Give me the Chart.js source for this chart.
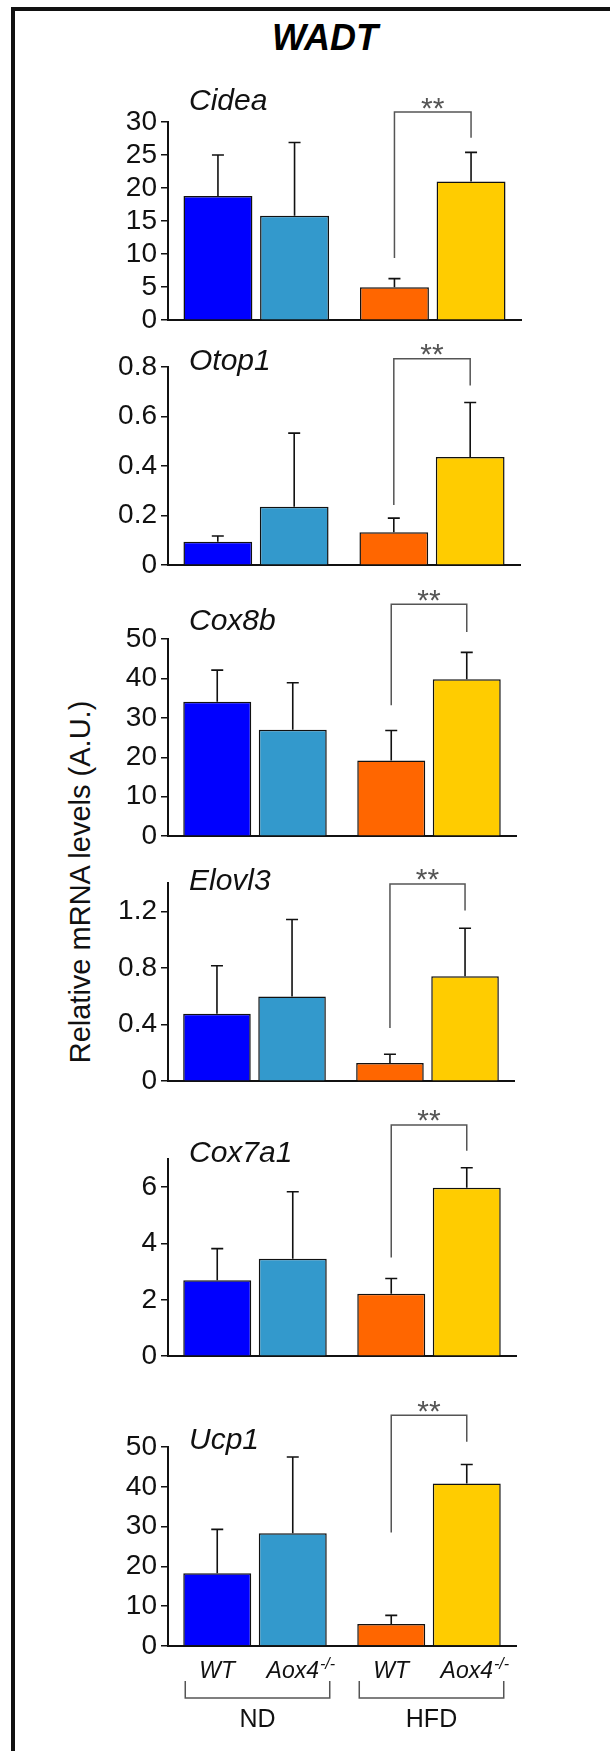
<!DOCTYPE html>
<html>
<head>
<meta charset="utf-8">
<title>WADT</title>
<script src="https://cdn.jsdelivr.net/npm/chart.js@4.4.1/dist/chart.umd.min.js"></script>
<style>
  html, body { margin: 0; padding: 0; background: #fff; }
  #page { position: relative; width: 610px; height: 1751px; overflow: hidden; background: #fff; }
  #frame { position: absolute; left: 11px; top: 7px; width: 700px; height: 1800px;
           border-left: 4px solid #111; border-top: 4px solid #111; }
  #title { position: absolute; left: 0; width: 650px; top: 20px; text-align: center; color: #000;
           font: bold italic 36px/36px "Liberation Sans", Arial, sans-serif; }
  #ytitle { position: absolute; left: 80px; top: 882px; white-space: nowrap; color: #111;
            transform: translate(-50%, -50%) rotate(-90deg);
            font: 29px/29px "Liberation Sans", Arial, sans-serif; }
  canvas { position: absolute; left: 0; }
</style>
</head>
<body>
<div id="page">
  <div id="frame"></div>
  <div id="title">WADT</div>
  <div id="ytitle">Relative mRNA levels (A.U.)</div>
</div>
<script>
const FONT = '"Liberation Sans", Arial, sans-serif';

// x groups and genotypes
const groups = ['ND', 'HFD'];
const genotypes = ['WT', 'Aox4'];
// bar colours: ND WT, ND Aox4, HFD WT, HFD Aox4
const barColors = ['#0000ff', '#3399cc', '#ff6600', '#ffcc00'];

const genes = ['Cidea', 'Otop1', 'Cox8b', 'Elovl3', 'Cox7a1', 'Ucp1'];

// means and SD, order: ND WT, ND Aox4-/-, HFD WT, HFD Aox4-/-
const cideaMean  = [18.8, 15.8, 5.0, 21.0];
const cideaSd    = [6.2, 11.1, 1.3, 4.4];
const otop1Mean  = [0.095, 0.236, 0.133, 0.437];
const otop1Sd    = [0.023, 0.297, 0.057, 0.22];
const cox8bMean  = [34.1, 27.0, 19.2, 39.8];
const cox8bSd    = [8.0, 11.9, 7.6, 6.8];
const elovl3Mean = [0.476, 0.599, 0.129, 0.742];
const elovl3Sd   = [0.339, 0.543, 0.061, 0.338];
const cox7a1Mean = [2.70, 3.46, 2.22, 5.98];
const cox7a1Sd   = [1.12, 2.38, 0.54, 0.71];
const ucp1Mean   = [18.3, 28.3, 5.5, 40.8];
const ucp1Sd     = [11.0, 19.2, 2.2, 4.8];

// y axis max and tick labels
const yMax = [30, 0.8, 50, 1.4, 7, 50];
const cideaTicks  = [0, 5, 10, 15, 20, 25, 30];
const otop1Ticks  = [0, 0.2, 0.4, 0.6, 0.8];
const cox8bTicks  = [0, 10, 20, 30, 40, 50];
const elovl3Ticks = [0, 0.4, 0.8, 1.2];
const cox7a1Ticks = [0, 2, 4, 6];
const ucp1Ticks   = [0, 10, 20, 30, 40, 50];

// significance bracket (HFD WT vs HFD Aox4): left leg bottom, top, right leg bottom
const cideaSig  = [9.4, 31.5, 27.6];
const otop1Sig  = [0.243, 0.833, 0.725];
const cox8bSig  = [33.2, 58.8, 51.8];
const elovl3Sig = [0.376, 1.393, 1.205];
const cox7a1Sig = [3.5, 8.21, 7.29];
const ucp1Sig   = [28.5, 58, 51.3];
const sigLabel = '**';

const means = [cideaMean, otop1Mean, cox8bMean, elovl3Mean, cox7a1Mean, ucp1Mean];
const sds = [cideaSd, otop1Sd, cox8bSd, elovl3Sd, cox7a1Sd, ucp1Sd];
const tickLists = [cideaTicks, otop1Ticks, cox8bTicks, elovl3Ticks, cox7a1Ticks, ucp1Ticks];
const sigs = [cideaSig, otop1Sig, cox8bSig, elovl3Sig, cox7a1Sig, ucp1Sig];

// panel placement on the page (px): plot top, zero line, x axis end, gene name baseline
const panelTop   = [121.7, 367, 639, 883.3, 1159.3, 1446.7];
const panelZero  = [320.3, 566, 837.3, 1082.3, 1357.3, 1645.3];
const panelRight = [521, 520, 516, 514, 516, 516];
const nameY      = [110, 370, 630, 890, 1162, 1449];
const AXIS_LEFT = 168;
const PAD_TOP = 60;

const marks = {
  id: 'marks',
  afterDatasetsDraw(chart, args, o) {
    const ctx = chart.ctx;
    const ys = chart.scales.y;
    ctx.save();
    // error bars
    ctx.strokeStyle = '#111';
    ctx.lineWidth = 1.6;
    chart.data.datasets.forEach((ds, di) => {
      chart.getDatasetMeta(di).data.forEach((bar, i) => {
        const top = ys.getPixelForValue(ds.data[i] + ds.sd[i]);
        ctx.beginPath();
        ctx.moveTo(bar.x, bar.y);
        ctx.lineTo(bar.x, top);
        ctx.moveTo(bar.x - 6, top);
        ctx.lineTo(bar.x + 6, top);
        ctx.stroke();
      });
    });
    // bracket
    const a = chart.getDatasetMeta(0).data[1];
    const b = chart.getDatasetMeta(1).data[1];
    const s = o.sig;
    const yTop = ys.getPixelForValue(s[1]);
    ctx.strokeStyle = '#555';
    ctx.lineWidth = 1.5;
    ctx.beginPath();
    ctx.moveTo(a.x, ys.getPixelForValue(s[0]));
    ctx.lineTo(a.x, yTop);
    ctx.lineTo(b.x, yTop);
    ctx.lineTo(b.x, ys.getPixelForValue(s[2]));
    ctx.stroke();
    ctx.fillStyle = '#555';
    ctx.font = '30px ' + FONT;
    ctx.textAlign = 'center';
    ctx.textBaseline = 'alphabetic';
    ctx.fillText(sigLabel, (a.x + b.x) / 2, yTop + 5.5);
    // gene name
    ctx.fillStyle = '#111';
    ctx.textAlign = 'left';
    ctx.font = 'italic 30px ' + FONT;
    ctx.fillText(o.name, chart.chartArea.left + 21, chart.chartArea.top + o.nameOffset);
    // genotype / diet labels under the last panel
    if (o.xLabels) {
      const z = chart.chartArea.bottom;
      const bars = [0, 1].map(g => [chart.getDatasetMeta(0).data[g], chart.getDatasetMeta(1).data[g]]);
      bars.forEach((pair, g) => {
        ctx.fillStyle = '#111';
        ctx.textAlign = 'center';
        ctx.font = 'italic 23px ' + FONT;
        ctx.fillText(genotypes[0], pair[0].x, z + 32);
        const w = ctx.measureText(genotypes[1]).width;
        ctx.textAlign = 'left';
        ctx.fillText(genotypes[1], pair[1].x - w / 2, z + 32);
        ctx.font = 'italic 16px ' + FONT;
        ctx.fillText('-/-', pair[1].x + w / 2 + 1, z + 23);
        const x1 = pair[0].x - pair[0].width / 2 + 2;
        const x2 = pair[1].x + pair[1].width / 2 + 3;
        ctx.strokeStyle = '#555';
        ctx.lineWidth = 1.5;
        ctx.beginPath();
        ctx.moveTo(x1, z + 35);
        ctx.lineTo(x1, z + 52);
        ctx.lineTo(x2, z + 52);
        ctx.lineTo(x2, z + 35);
        ctx.stroke();
        ctx.textAlign = 'center';
        ctx.font = '25px ' + FONT;
        ctx.fillText(groups[g], (x1 + x2) / 2, z + 81);
      });
    }
    ctx.restore();
  }
};

const page = document.getElementById('page');

genes.forEach((gene, k) => {
  const last = k === genes.length - 1;
  const padBottom = last ? 95 : 20;
  const canvas = document.createElement('canvas');
  canvas.width = 610;
  canvas.height = Math.round(panelZero[k] - panelTop[k] + PAD_TOP + padBottom);
  canvas.style.top = (panelTop[k] - PAD_TOP) + 'px';
  page.appendChild(canvas);

  const m = means[k], sd = sds[k];
  const ticks = tickLists[k];

  new Chart(canvas.getContext('2d'), {
    type: 'bar',
    data: {
      labels: groups,
      datasets: [
        { label: 'WT', data: [m[0], m[2]], sd: [sd[0], sd[2]],
          backgroundColor: [barColors[0], barColors[2]] },
        { label: 'Aox4-/-', data: [m[1], m[3]], sd: [sd[1], sd[3]],
          backgroundColor: [barColors[1], barColors[3]] }
      ]
    },
    options: {
      responsive: false,
      animation: false,
      events: [],
      datasets: {
        bar: { categoryPercentage: 0.868, barPercentage: 0.9, borderColor: '#111', borderWidth: 1.5 }
      },
      layout: { padding: { top: PAD_TOP, bottom: padBottom, left: 0, right: 610 - panelRight[k] } },
      plugins: {
        legend: { display: false },
        tooltip: { enabled: false },
        marks: { sig: sigs[k], name: gene, nameOffset: nameY[k] - panelTop[k], xLabels: last }
      },
      scales: {
        x: {
          grid: { display: false },
          ticks: { display: false },
          border: { display: true, color: '#111', width: 2 },
          afterFit: s => { s.height = 0; }
        },
        y: {
          min: 0,
          max: yMax[k],
          afterBuildTicks: s => { s.ticks = ticks.map(v => ({ value: v })); },
          afterFit: s => { s.width = AXIS_LEFT; },
          ticks: { color: '#111', padding: 4, autoSkip: false, font: { family: FONT, size: 28 },
                   callback: v => String(v) },
          grid: { drawOnChartArea: false, drawTicks: true, tickLength: 7, color: '#111', lineWidth: 1.5 },
          border: { display: true, color: '#111', width: 2 }
        }
      }
    },
    plugins: [marks]
  });
});
</script>
</body>
</html>
